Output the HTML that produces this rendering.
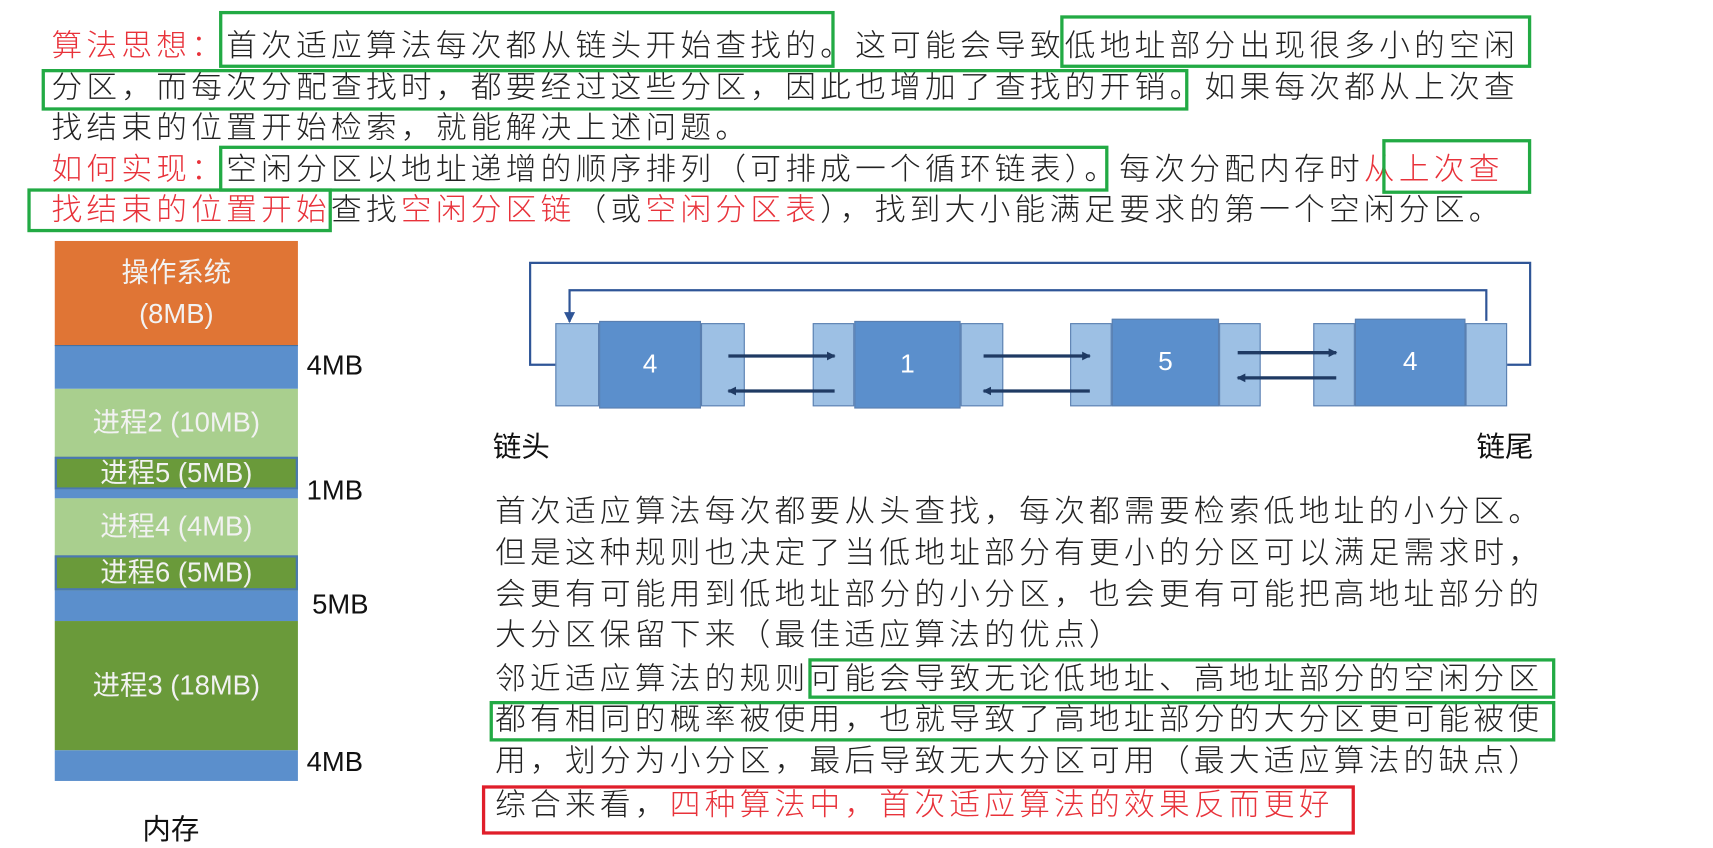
<!DOCTYPE html>
<html><head><meta charset="utf-8"><style>
html,body{margin:0;padding:0;background:#fff;width:1713px;height:843px;overflow:hidden}
#w{position:absolute;left:0;top:0;width:1564px;height:770px;transform:scale(1.0953);transform-origin:0 0;font-family:"Liberation Sans","Noto Sans CJK SC",sans-serif;color:#222}
.t{position:absolute;font-size:28px;letter-spacing:3.9px;line-height:34px;white-space:nowrap;font-weight:300}
.r{color:#e8323a}
.gb{position:absolute;border:3.5px solid #22aa44;box-sizing:border-box}
.rb{position:absolute;border:3.5px solid #e01e2a;box-sizing:border-box}
.m{position:absolute;left:50px;width:222px;box-sizing:border-box;color:#f2f2f2;font-size:25px;text-align:center;display:flex;align-items:center;justify-content:center;flex-direction:column;line-height:38px}
.lb{position:absolute;font-size:25px;color:#111}
.c{position:absolute;box-sizing:border-box;border:1px solid #5a7fb0}
.l{background:#9dc0e4}.d{background:#5b8fcc;color:#fff;font-size:24px;display:flex;align-items:center;justify-content:center}
</style></head><body><div id="w">
<div class="t" style="left:47px;top:25px"><span class="r">算法思想：</span>首次适应算法每次都从链头开始查找的。这可能会导致低地址部分出现很多小的空闲</div>
<div class="t" style="left:47px;top:63px">分区，而每次分配查找时，都要经过这些分区，因此也增加了查找的开销。如果每次都从上次查</div>
<div class="t" style="left:47px;top:100px">找结束的位置开始检索，就能解决上述问题。</div>
<div class="t" style="left:47px;top:138px"><span class="r">如何实现：</span>空闲分区以地址递增的顺序排列（可排成一个循环链表）。每次分配内存时<span class="r">从上次查</span></div>
<div class="t" style="left:47px;top:175px"><span class="r">找结束的位置开始</span>查找<span class="r">空闲分区链</span>（或<span class="r">空闲分区表</span>），找到大小能满足要求的第一个空闲分区。</div>
<div class="gb" style="left:200px;top:10px;width:562px;height:52px"></div>
<div class="gb" style="left:968px;top:14px;width:430px;height:48px"></div>
<div class="gb" style="left:38px;top:63px;width:1047px;height:38px"></div>
<div class="gb" style="left:200px;top:133px;width:812px;height:42px"></div>
<div class="gb" style="left:1262px;top:127px;width:136px;height:50px"></div>
<div class="gb" style="left:25px;top:172px;width:278px;height:40px"></div>

<div class="m" style="top:220px;height:95px;background:#e07535"><div>操作系统</div><div>(8MB)</div></div>
<div class="m" style="top:315px;height:40px;background:#5b8fcc;border-top:1px solid #46709f"></div>
<div class="m" style="top:355px;height:62px;background:#a9cf8e">进程2 (10MB)</div>
<div class="m" style="top:417px;height:30px;background:#6a9a3a;border:2px solid #4a78b0">进程5 (5MB)</div>
<div class="m" style="top:447px;height:8px;background:#5b8fcc"></div>
<div class="m" style="top:455px;height:52px;background:#a9cf8e">进程4 (4MB)</div>
<div class="m" style="top:507px;height:32px;background:#6a9a3a;border:2px solid #4a78b0">进程6 (5MB)</div>
<div class="m" style="top:539px;height:28px;background:#5b8fcc"></div>
<div class="m" style="top:567px;height:118px;background:#6a9a3a">进程3 (18MB)</div>
<div class="m" style="top:685px;height:28px;background:#5b8fcc"></div>
<div class="lb" style="left:280px;top:320px">4MB</div>
<div class="lb" style="left:280px;top:434px">1MB</div>
<div class="lb" style="left:285px;top:538px">5MB</div>
<div class="lb" style="left:280px;top:682px">4MB</div>
<div class="lb" style="left:130px;top:737px;font-size:26px">内存</div>

<div class="c l" style="left:507px;top:295px;width:40px;height:76px"></div>
<div class="c d" style="left:547px;top:293px;width:93px;height:80px">4</div>
<div class="c l" style="left:640px;top:295px;width:40px;height:76px"></div>
<div class="c l" style="left:742px;top:295px;width:38px;height:76px"></div>
<div class="c d" style="left:780px;top:293px;width:97px;height:80px">1</div>
<div class="c l" style="left:877px;top:295px;width:39px;height:76px"></div>
<div class="c l" style="left:977px;top:295px;width:38px;height:76px"></div>
<div class="c d" style="left:1015px;top:291px;width:98px;height:80px">5</div>
<div class="c l" style="left:1113px;top:295px;width:38px;height:76px"></div>
<div class="c l" style="left:1199px;top:295px;width:38px;height:76px"></div>
<div class="c d" style="left:1237px;top:291px;width:101px;height:80px">4</div>
<div class="c l" style="left:1338px;top:295px;width:38px;height:76px"></div>
<svg style="position:absolute;left:0;top:0" width="1564" height="770">
<defs><marker id="a" markerWidth="8" markerHeight="8" refX="7" refY="4" orient="auto" markerUnits="userSpaceOnUse"><path d="M0,0L8,4L0,8z" fill="#1f3a63"/></marker>
<marker id="b" markerWidth="10" markerHeight="10" refX="9" refY="5" orient="auto" markerUnits="userSpaceOnUse"><path d="M0,0L10,5L0,10z" fill="#2f5597"/></marker></defs>
<polyline points="1376,333 1397,333 1397,240 484,240 484,333 507,333" fill="none" stroke="#2f5597" stroke-width="2"/>
<polyline points="1357,293 1357,265 520,265 520,294" fill="none" stroke="#2f5597" stroke-width="2" marker-end="url(#b)"/>
<g stroke="#1f3a63" stroke-width="3" marker-end="url(#a)">
<line x1="665" y1="325" x2="762" y2="325"/><line x1="762" y1="357" x2="665" y2="357"/>
<line x1="898" y1="325" x2="995" y2="325"/><line x1="995" y1="357" x2="898" y2="357"/>
<line x1="1130" y1="322" x2="1220" y2="322"/><line x1="1220" y1="345" x2="1130" y2="345"/>
</g></svg>
<div class="lb" style="left:450px;top:388px;font-size:26px">链头</div>
<div class="lb" style="left:1348px;top:388px;font-size:26px">链尾</div>

<div class="t" style="left:452px;top:450px">首次适应算法每次都要从头查找，每次都需要检索低地址的小分区。</div>
<div class="t" style="left:452px;top:488px">但是这种规则也决定了当低地址部分有更小的分区可以满足需求时，</div>
<div class="t" style="left:452px;top:526px">会更有可能用到低地址部分的小分区，也会更有可能把高地址部分的</div>
<div class="t" style="left:452px;top:563px">大分区保留下来（最佳适应算法的优点）</div>
<div class="t" style="left:452px;top:603px">邻近适应算法的规则可能会导致无论低地址、高地址部分的空闲分区</div>
<div class="t" style="left:452px;top:640px">都有相同的概率被使用，也就导致了高地址部分的大分区更可能被使</div>
<div class="t" style="left:452px;top:678px">用，划分为小分区，最后导致无大分区可用（最大适应算法的缺点）</div>
<div class="t" style="left:452px;top:718px">综合来看，<span class="r">四种算法中，首次适应算法的效果反而更好</span></div>
<div class="gb" style="left:738px;top:601px;width:682px;height:37px"></div>
<div class="gb" style="left:447px;top:640px;width:973px;height:37px"></div>
<div class="rb" style="left:440px;top:717px;width:797px;height:45px"></div>
</div></body></html>
